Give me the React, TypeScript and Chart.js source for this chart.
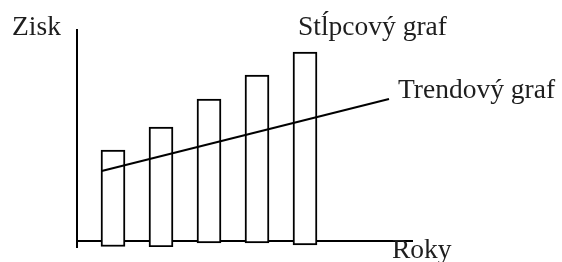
import React, { useEffect, useRef } from "react";
import { Chart, registerables } from "chart.js";

Chart.register(...registerables);

// Schematic data (arbitrary units; 0 = horizontal axis)
const years = [1, 2, 3, 4, 5];
const barTops = [91, 114, 142, 166, 189];
const barBases = [-5.5, -6, -2, -2, -4];
const trendX = [0.765, 6.75];
const trendY = [70, 142];

const yAxisTitle = "Zisk";
const xAxisTitle = "Roky";
const barLabel = "Stĺpcový graf";
const trendLabel = "Trendový graf";

const FONT = '27.5px "Liberation Serif", "Times New Roman", serif';
const TEXT_COLOR = "#1e1e1e";

const textPlugin = {
  id: "schemeText",
  afterDraw(chart: any) {
    const ctx = chart.ctx;
    ctx.save();
    ctx.font = FONT;
    ctx.fillStyle = TEXT_COLOR;
    ctx.textAlign = "left";
    ctx.textBaseline = "alphabetic";
    ctx.fillText(yAxisTitle, 12, 35);
    ctx.fillText(barLabel, 298, 35);
    ctx.fillText(trendLabel, 398, 98);
    ctx.fillText(xAxisTitle, 392, 258);
    ctx.restore();
  },
};

export default function App() {
  const ref = useRef<HTMLCanvasElement | null>(null);

  useEffect(() => {
    if (!ref.current) return;
    const chart = new Chart(ref.current, {
      type: "bar",
      data: {
        datasets: [
          {
            type: "line",
            label: trendLabel,
            data: trendX.map((x, i) => ({ x, y: trendY[i] })),
            borderColor: "#000",
            borderWidth: 2,
            pointRadius: 0,
            fill: false,
            order: 1,
          } as any,
          {
            type: "bar",
            label: barLabel,
            data: years.map((x, i) => ({ x, y: [barBases[i], barTops[i]] })),
            backgroundColor: "#fff",
            borderColor: "#000",
            borderWidth: 2,
            borderSkipped: false,
            barThickness: 24,
            order: 2,
          } as any,
        ],
      },
      options: {
        animation: false,
        responsive: false,
        devicePixelRatio: 1,
        layout: { padding: { left: 77, top: 30, right: 149, bottom: 15 } },
        plugins: {
          legend: { display: false },
          tooltip: { enabled: false },
          title: { display: false },
        },
        scales: {
          x: {
            type: "linear",
            min: 0.25,
            max: 7.25,
            offset: false,
            display: false,
          },
          y: {
            type: "linear",
            min: -6,
            max: 211,
            ticks: { display: false },
            grid: {
              drawTicks: false,
              color: "#000",
              lineWidth: 2,
            },
            border: { display: true, color: "#000", width: 2 },
            afterBuildTicks: (scale: any) => {
              scale.ticks = [{ value: 0 }];
            },
            afterFit: (scale: any) => {
              scale.width = 0;
            },
          },
        },
      },
      plugins: [textPlugin],
    } as any);
    return () => chart.destroy();
  }, []);

  return (
    <div style={{ position: "absolute", left: 0, top: 0, width: 562, height: 262, background: "#fff" }}>
      <canvas ref={ref} width={562} height={262} />
    </div>
  );
}
